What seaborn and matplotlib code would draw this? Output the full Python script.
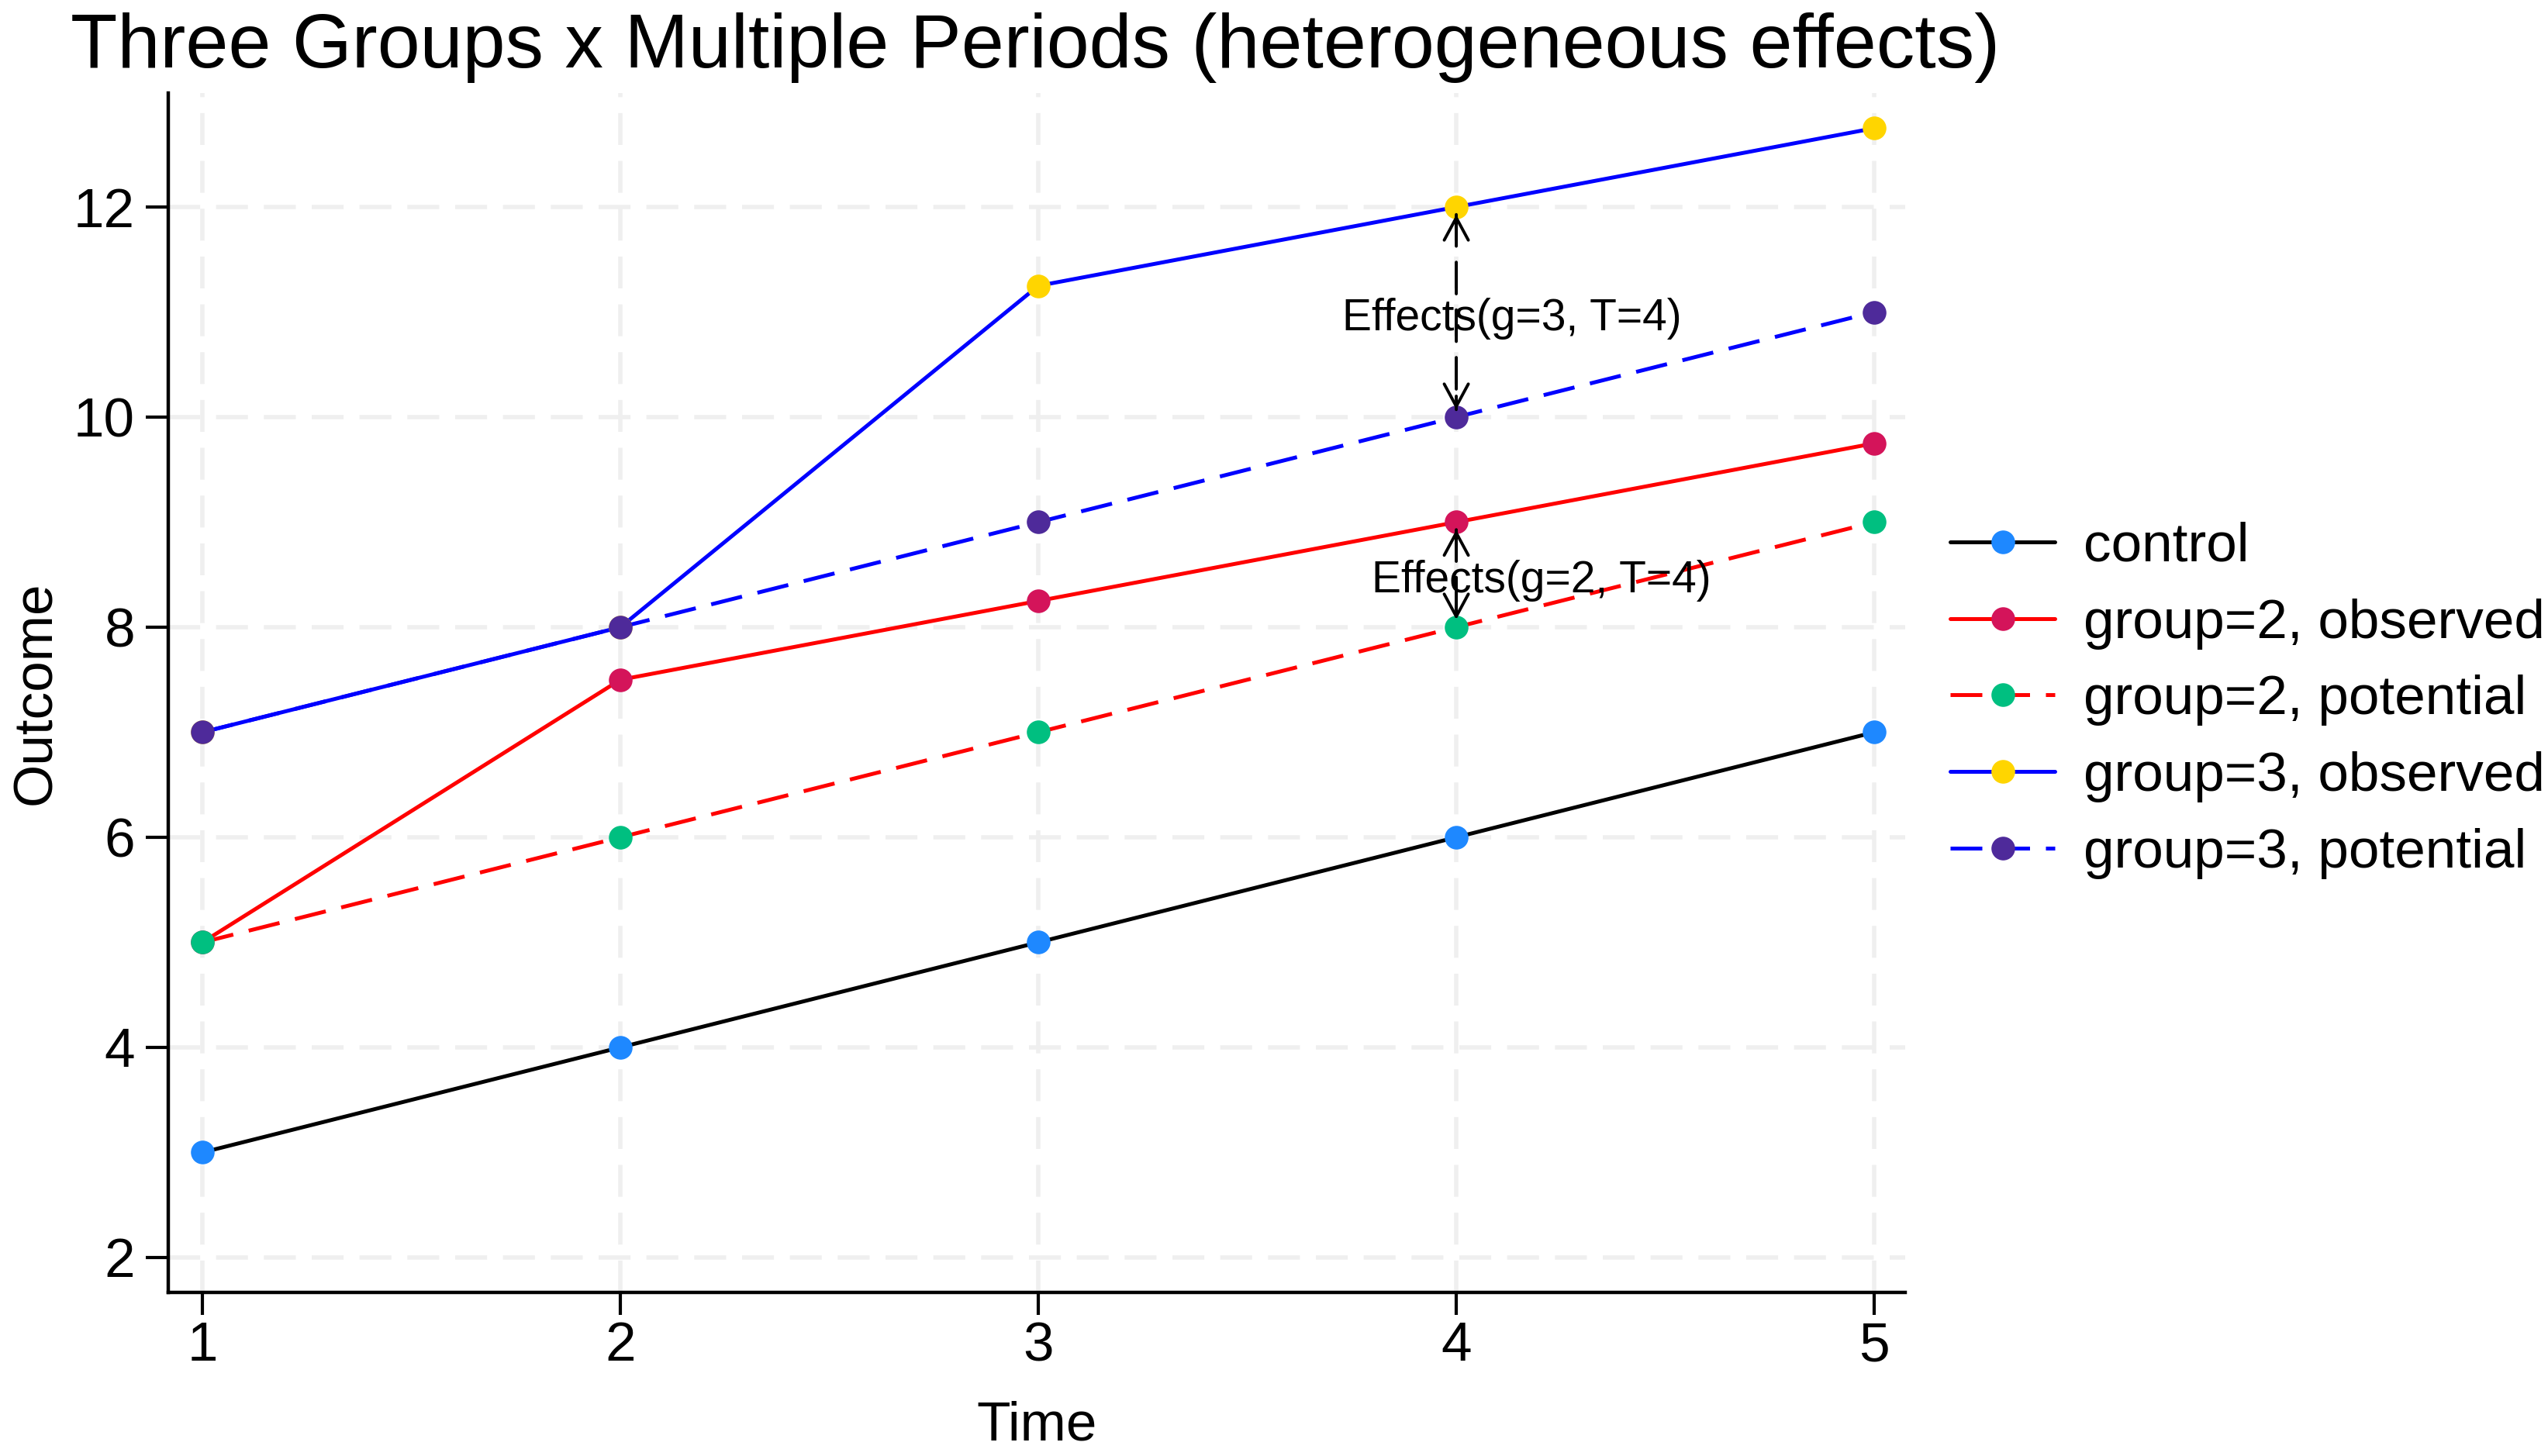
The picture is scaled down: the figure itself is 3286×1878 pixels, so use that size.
import seaborn as sns
import matplotlib.pyplot as plt
import pandas as pd

# Datos del grafico
times = [1, 2, 3, 4, 5]
control = [3, 4, 5, 6, 7]
g2_observed = [5, 7.5, 8.25, 9, 9.75]
g2_potential = [5, 6, 7, 8, 9]
g3_observed = [7, 8, 11.25, 12, 12.75]
g3_potential = [7, 8, 9, 10, 11]

series_names = ["control", "group=2, observed", "group=2, potential",
                "group=3, observed", "group=3, potential"]
series_values = [control, g2_observed, g2_potential, g3_observed, g3_potential]
line_colors = ["black", "#FF0000", "#FF0000", "#0000FF", "#0000FF"]
marker_colors = ["#1E88FF", "#D4145A", "#00BF80", "#FFD500", "#4E2A9A"]
dashed = [False, False, True, False, True]

df = pd.DataFrame({
    "time": times * len(series_names),
    "outcome": [v for vals in series_values for v in vals],
    "series": [n for n in series_names for _ in times],
})

sns.set_style("white")
plt.rcParams["font.family"] = ["Liberation Sans", "DejaVu Sans"]
plt.rcParams["text.color"] = "black"
plt.rcParams["axes.labelcolor"] = "black"
plt.rcParams["xtick.color"] = "black"
plt.rcParams["ytick.color"] = "black"

fig = plt.figure(figsize=(16.43, 9.39), dpi=200)
ax = fig.add_axes([0.0660, 0.1124, 0.6817, 0.8237])

lw = 1.8
for name, lc, mc, dsh in zip(series_names, line_colors, marker_colors, dashed):
    ls = (0, (8.2, 4.1)) if dsh else "-"
    sns.lineplot(data=df[df["series"] == name], x="time", y="outcome", ax=ax,
                 color=lc, linestyle=ls, lw=lw, marker="o", markersize=11,
                 markerfacecolor=mc, markeredgewidth=0, errorbar=None,
                 label=name)

# Flechas de efectos en T=4
i4 = times.index(4)
for top, bottom in [(g3_observed[i4], g3_potential[i4]),
                    (g2_observed[i4], g2_potential[i4])]:
    ax.annotate("", xy=(4, bottom), xytext=(4, top),
                arrowprops=dict(arrowstyle="-", lw=1.4, color="black",
                                linestyle=(0, (10.5, 5.3)),
                                shrinkA=3.5, shrinkB=3.5))
    for tip, back in [(top, top - 0.2), (bottom, bottom + 0.2)]:
        ax.annotate("", xy=(4, tip), xytext=(4, back),
                    arrowprops=dict(arrowstyle="->,head_length=0.52,head_width=0.28",
                                    mutation_scale=20, lw=1.4, color="black",
                                    shrinkA=0, shrinkB=3.5))

ax.text(4.133, 10.83, "Effects(g=3, T=4)", ha="center", va="baseline", fontsize=20.5)
ax.text(4.204, 8.33, "Effects(g=2, T=4)", ha="center", va="baseline", fontsize=20.5)

ax.set_xlim(0.918, 5.074)
ax.set_ylim(1.668, 13.085)
ax.set_xticks(times)
ax.set_yticks([2, 4, 6, 8, 10, 12])

ax.grid(True, color="#EFEFEF", lw=2, linestyle=(0, (7.4, 3.7)))
ax.set_axisbelow(True)

for side in ["top", "right"]:
    ax.spines[side].set_visible(False)
for side in ["left", "bottom"]:
    ax.spines[side].set_linewidth(1.6)
    ax.spines[side].set_color("black")

ax.tick_params(axis="both", direction="out", length=10.4, width=1.5,
               labelsize=25.6, color="black", left=True, bottom=True)
ax.tick_params(axis="x", pad=3)
ax.tick_params(axis="y", pad=5)

ax.set_xlabel("Time", fontsize=25.6)
ax.set_ylabel("Outcome", fontsize=25.6)
ax.xaxis.set_label_coords(0.5, -0.090)
ax.yaxis.set_label_coords(-0.061, 0.5)

fig.text(0.0277, 0.9537, "Three Groups x Multiple Periods (heterogeneous effects)",
         fontsize=35.6, va="baseline", ha="left")

ax.legend(loc="center left", bbox_to_anchor=(0.7654, 0.519),
          bbox_transform=fig.transFigure, frameon=False, fontsize=25.6,
          borderpad=0, borderaxespad=0, handlelength=1.9, handletextpad=0.52,
          labelspacing=0.46, numpoints=1)

fig.savefig("out.png", dpi=200)
